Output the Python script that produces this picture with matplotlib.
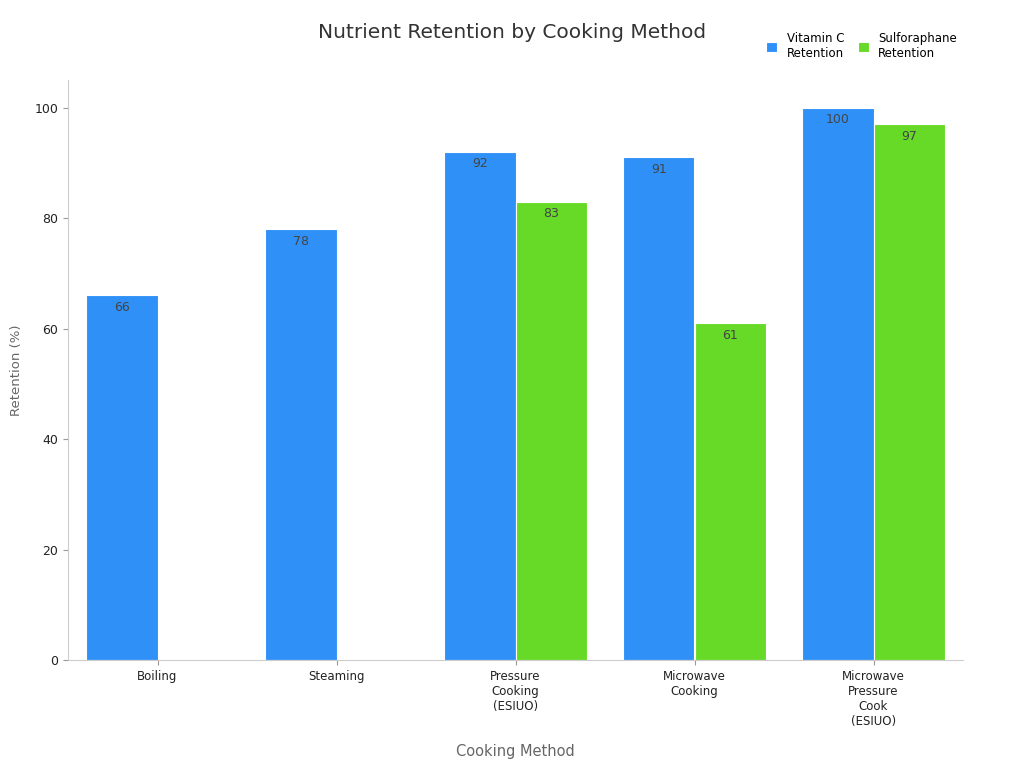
import matplotlib
matplotlib.use("Agg")
import matplotlib.pyplot as plt
import numpy as np

categories = ["Boiling", "Steaming", "Pressure\nCooking\n(ESIUO)", "Microwave\nCooking", "Microwave\nPressure\nCook\n(ESIUO)"]
vitamin_c = [66, 78, 92, 91, 100]
sulforaphane = [np.nan, np.nan, 83, 61, 97]

fig = plt.figure(figsize=(10.24, 7.68), dpi=100)
ax = fig.add_axes([68/1024, 1-660/768, (963-68)/1024, (660-80)/768])
x = np.arange(len(categories))
w = 0.4
b1 = ax.bar(x - w/2, vitamin_c, w, color="#2F91F8", edgecolor="white", linewidth=0.8, label="Vitamin C\nRetention")
b2 = ax.bar(x + w/2, sulforaphane, w, color="#66DA26", edgecolor="white", linewidth=0.8, label="Sulforaphane\nRetention")
for bars, vals in ((b1, vitamin_c), (b2, sulforaphane)):
    for r, v in zip(bars, vals):
        if not np.isnan(v):
            ax.text(r.get_x() + r.get_width()/2, v - 1, f"{v:g}", ha="center", va="top", fontsize=9, color="#444444")
ax.set_xlim(-0.5, 4.5)
ax.set_ylim(0, 105)
ax.set_yticks([0, 20, 40, 60, 80, 100])
ax.set_xticks(x)
ax.set_xticklabels(categories, fontsize=8.5, color="#222222")
ax.tick_params(axis="y", labelsize=9, colors="#222222")
ax.tick_params(axis="both", color="#999999")
for s in ("top", "right"):
    ax.spines[s].set_visible(False)
for s in ("left", "bottom"):
    ax.spines[s].set_color("#cccccc")
ax.set_xlabel("Cooking Method", fontsize=10.5, color="#666666", labelpad=12)
ax.set_ylabel("Retention (%)", fontsize=9.5, color="#666666", labelpad=8)
fig.text(0.5, 1-33/768, "Nutrient Retention by Cooking Method", ha="center", va="center", fontsize=14.5, color="#333333")
fig.legend(loc="upper right", bbox_to_anchor=(0.945, 0.972), ncol=2, frameon=False, fontsize=8.5,
           handlelength=0.9, handleheight=0.9, columnspacing=1.2)
fig.savefig("out.png", dpi=100)
